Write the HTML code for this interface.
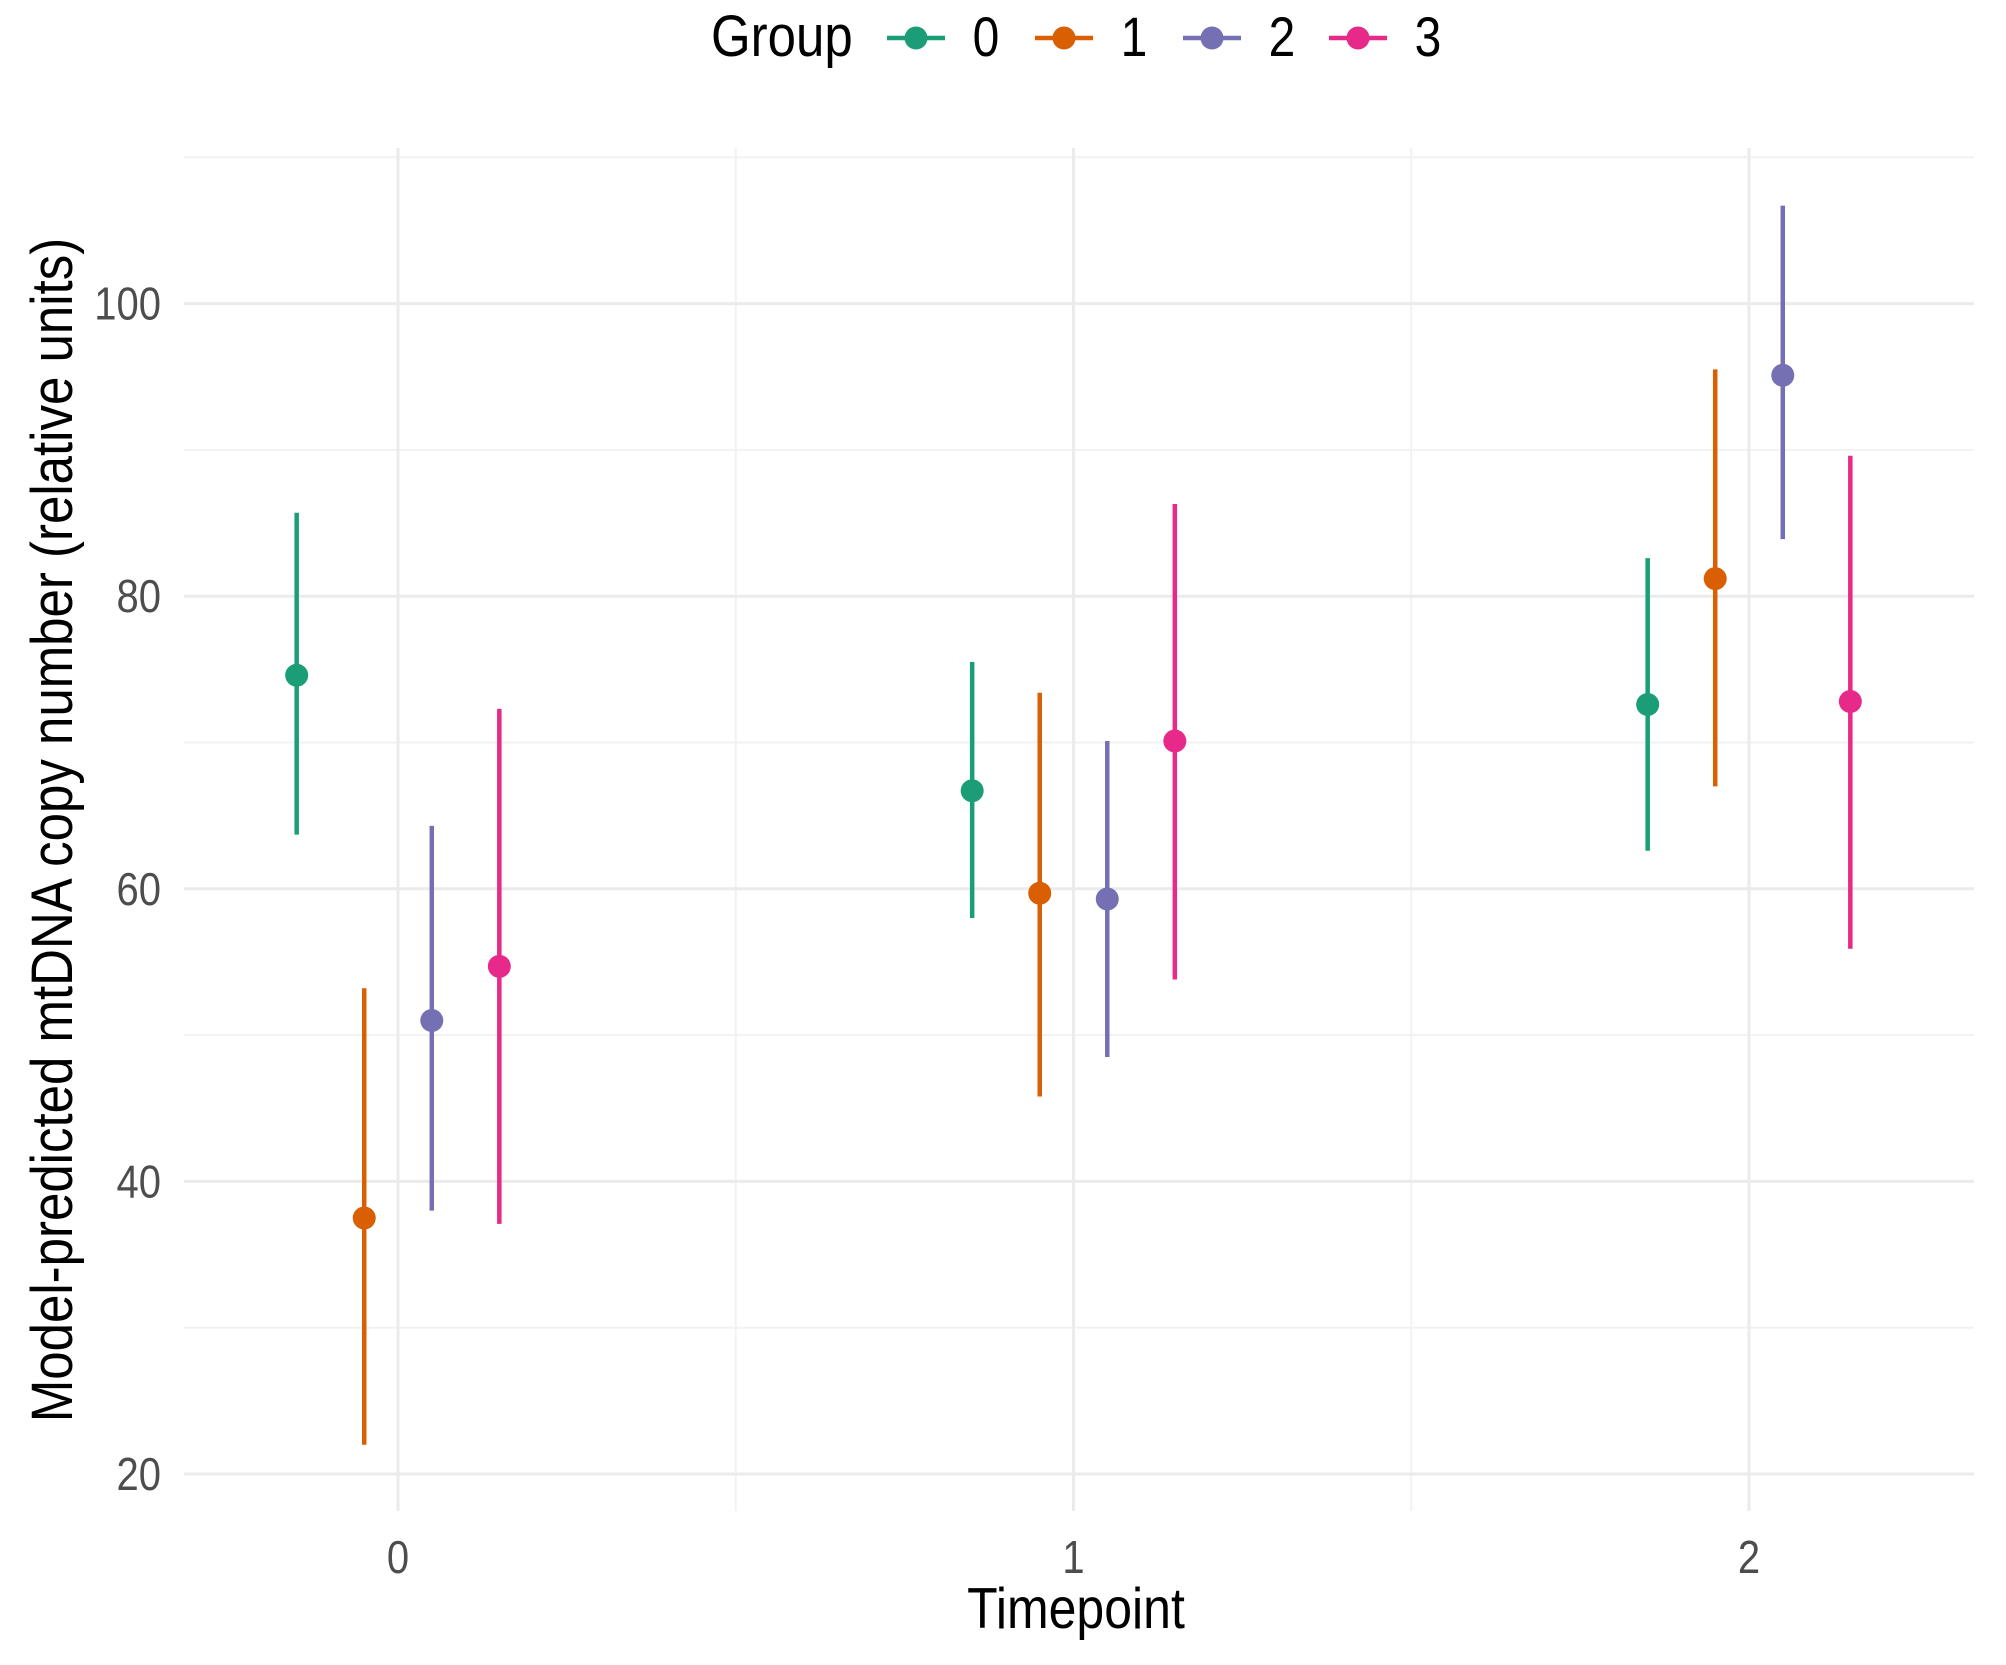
<!DOCTYPE html>
<html><head><meta charset="utf-8"><style>
html,body{margin:0;padding:0;background:#fff;}
svg{display:block;font-family:"Liberation Sans",sans-serif;}
</style></head><body>
<svg id="chart" width="2006" height="1665" viewBox="0 0 2006 1665" xmlns="http://www.w3.org/2000/svg">
<g id="grid"></g>
<g id="marks"></g>
<g id="axes"></g>
<text transform="translate(1076,1628) scale(1,1.15)" font-size="50" text-anchor="middle" fill="#000">Timepoint</text>
<text transform="translate(72,830) rotate(-90) scale(1,1.15)" font-size="51" text-anchor="middle" fill="#000">Model-predicted mtDNA copy number (relative units)</text>
<g id="legend">
<text transform="translate(711,56) scale(1,1.15)" font-size="51" fill="#000">Group</text>
</g>
</svg>
<script>
const timepoints = [0, 1, 2];
const groups = ["0", "1", "2", "3"];
const colors = ["#1B9E77", "#D95F02", "#7570B3", "#E7298A"];
const yTicks = [20, 40, 60, 80, 100];
const yMinor = [30, 50, 70, 90, 110];
const means = [[74.6, 66.7, 72.6], [37.5, 59.7, 81.2], [51.0, 59.3, 95.1], [54.7, 70.1, 72.8]];
const lows  = [[63.7, 58.0, 62.6], [22.0, 45.8, 67.0], [38.0, 48.5, 83.9], [37.1, 53.8, 55.9]];
const highs = [[85.7, 75.5, 82.6], [53.2, 73.4, 95.5], [64.3, 70.1, 106.7], [72.3, 86.3, 89.6]];
const dodge = [-0.15, -0.05, 0.05, 0.15];

const NS = "http://www.w3.org/2000/svg";
const L = 184, R = 1974, T = 148, B = 1511;
function xs(v){ return 398 + v * 675.5; }
function ys(v){ return 1474 - (v - 20) * 14.63; }
function mk(tag, attrs, parent){ const e = document.createElementNS(NS, tag); for (const k in attrs) e.setAttribute(k, attrs[k]); parent.appendChild(e); return e; }
const grid = document.getElementById("grid"), marks = document.getElementById("marks"), axes = document.getElementById("axes"), legend = document.getElementById("legend");

yMinor.forEach(v => { const l = mk("line", {x1:L, x2:R, y1:ys(v), y2:ys(v), stroke:"#f2f2f2", "stroke-width":2}, grid);
  
   });
[0.5, 1.5].forEach(v => { const l = mk("line", {x1:xs(v), x2:xs(v), y1:T, y2:B, stroke:"#f2f2f2", "stroke-width":2}, grid);
  
   });
yTicks.forEach(v => { const l = mk("line", {x1:L, x2:R, y1:ys(v), y2:ys(v), stroke:"#ebebeb", "stroke-width":3}, grid);
  
  
  const t = mk("text", {transform:"translate(161," + (ys(v) + 16) + ") scale(1,1.15)", "font-size":40, "text-anchor":"end", fill:"#4d4d4d"}, axes);
  t.textContent = v;
  
   });
timepoints.forEach(v => { const l = mk("line", {x1:xs(v), x2:xs(v), y1:T, y2:B, stroke:"#ebebeb", "stroke-width":3}, grid);
  
  
  const t = mk("text", {transform:"translate(" + xs(v) + ",1573) scale(1,1.15)", "font-size":40, "text-anchor":"middle", fill:"#4d4d4d"}, axes);
  t.textContent = v;
  
   });

groups.forEach((g, gi) => {
  timepoints.forEach((tp, ti) => {
    const x = xs(tp + dodge[gi]);
    const ln = mk("line", {x1:x, x2:x, y1:ys(lows[gi][ti]), y2:ys(highs[gi][ti]), stroke:colors[gi], "stroke-width":4.5}, marks);
    
    
    const c = mk("circle", {cx:x, cy:ys(means[gi][ti]), r:11.5, fill:colors[gi]}, marks);
    
    
  });
});

const keyX = [916, 1064, 1212, 1358];
groups.forEach((g, gi) => {
  const kl = mk("line", {x1:keyX[gi] - 29, x2:keyX[gi] + 29, y1:38, y2:38, stroke:colors[gi], "stroke-width":4.5}, legend);
  
  
  const kc = mk("circle", {cx:keyX[gi], cy:38, r:11.5, fill:colors[gi]}, legend);
  
  
  const kt = mk("text", {transform:"translate(" + (keyX[gi] + 70) + ",56) scale(1,1.15)", "font-size":48, "text-anchor":"middle", fill:"#000"}, legend);
  kt.textContent = g;
  
  
});
</script>
</body></html>
